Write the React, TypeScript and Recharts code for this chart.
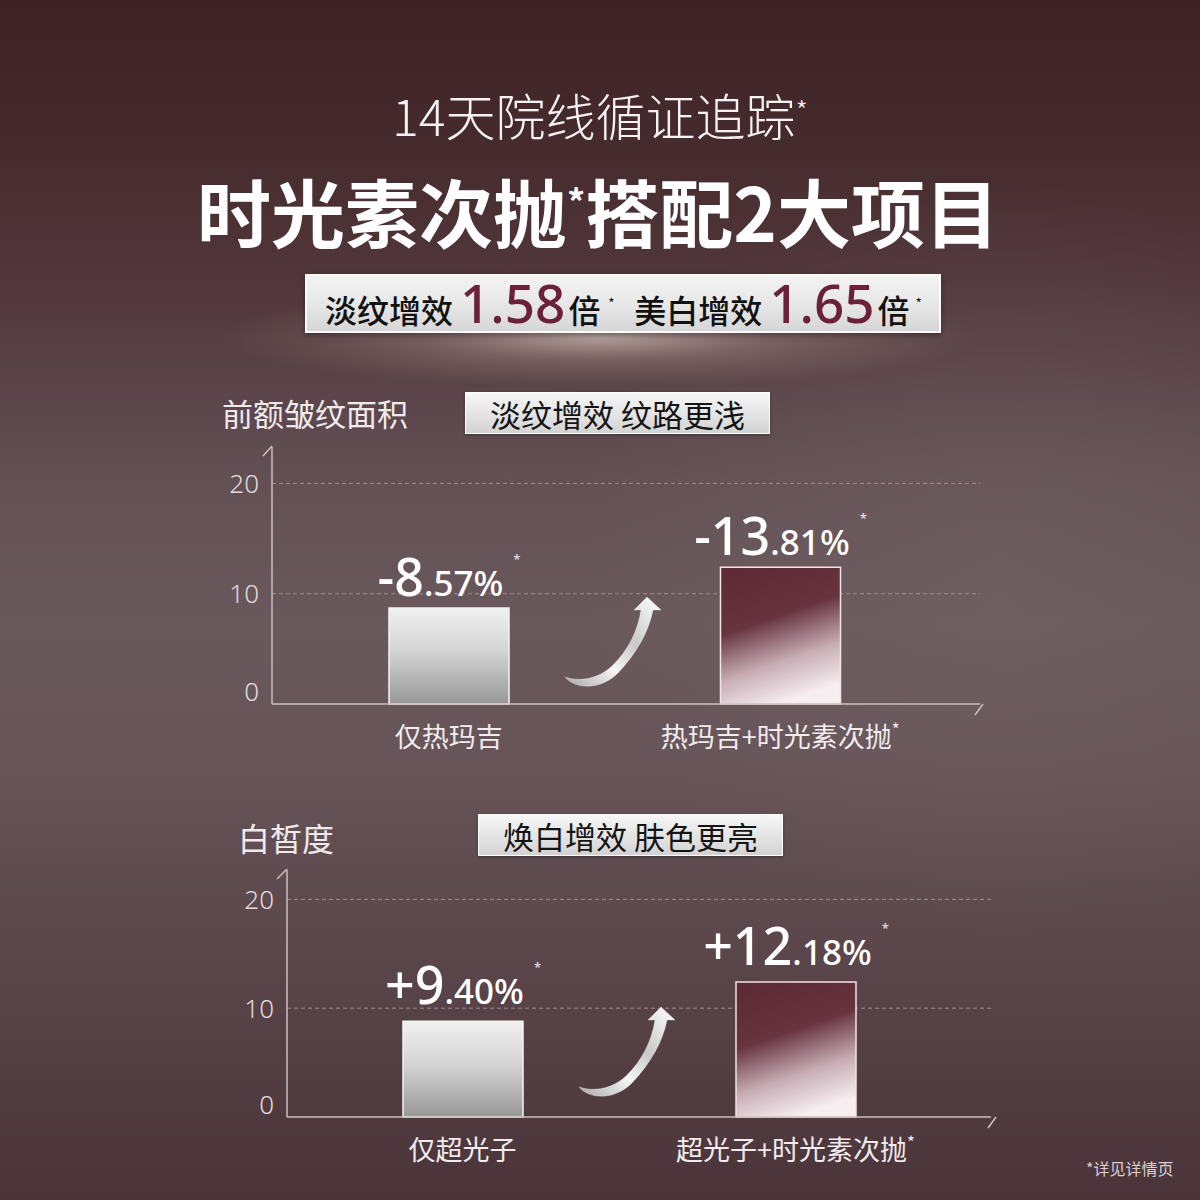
import { BarChart, Bar, XAxis, YAxis, CartesianGrid, LabelList, Cell } from "recharts";

const wrinkleCats = ["仅热玛吉", "热玛吉+时光素次抛*"];
const wrinkleValues = [8.7, 12.4];
const wrinkleLabels = ["-8.57%", "-13.81%"];

const whiteCats = ["仅超光子", "超光子+时光素次抛*"];
const whiteValues = [8.8, 12.4];
const whiteLabels = ["+9.40%", "+12.18%"];

const yTicks = [0, 10, 20];
const gridValues = [10, 20];

const CJK = "'Noto Sans CJK SC', 'Noto Sans', sans-serif";
const NUM = "'Noto Sans', 'Noto Sans CJK SC', sans-serif";

const wrinkleData = wrinkleCats.map((c, i) => ({ name: c, value: wrinkleValues[i], label: wrinkleLabels[i] }));
const whiteData = whiteCats.map((c, i) => ({ name: c, value: whiteValues[i], label: whiteLabels[i] }));

const YTick = (props: any) => {
  const { x, y, payload } = props;
  const shift = payload.value === 0 ? -12 : 0;
  return (
    <text x={x} y={y + shift} dy="0.36em" textAnchor="end" fill="#e4dadc" fontSize={26} fontWeight={300} fontFamily={NUM}>
      {payload.value}
    </text>
  );
};

const CatTick = (props: any) => {
  const { x, y, payload, off } = props;
  const s: string = payload.value;
  const star = s.endsWith("*");
  const main = star ? s.slice(0, -1) : s;
  return (
    <text x={x} y={y + off} textAnchor="middle" fill="#f2ecee" fontSize={27} fontFamily={CJK}>
      <tspan>{main}</tspan>
      {star && (
        <tspan fontSize={17} dy={-11}>
          *
        </tspan>
      )}
    </text>
  );
};

const ValueLabel = (props: any) => {
  const { x, y, width, value, gap } = props;
  const s = String(value);
  const dot = s.indexOf(".");
  return (
    <text x={x + width / 2} y={y - gap} textAnchor="middle" fill="#ffffff" fontFamily={NUM} fontWeight={500}>
      <tspan fontSize={52}>{s.slice(0, dot)}</tspan>
      <tspan fontSize={35}>{s.slice(dot)}</tspan>
      <tspan fontSize={13} dx={10} dy={-32} fill="#e8e0e2">
        *
      </tspan>
    </text>
  );
};

function Gradients() {
  return (
    <defs>
      <linearGradient id="silver" x1="0" y1="0" x2="0" y2="1">
        <stop offset="0%" stopColor="#f0f0f0" />
        <stop offset="45%" stopColor="#d4d4d4" />
        <stop offset="100%" stopColor="#979797" />
      </linearGradient>
      <linearGradient id="wine" x1="0.2" y1="0" x2="0.5" y2="1">
        <stop offset="0%" stopColor="#5d2a36" />
        <stop offset="40%" stopColor="#66333f" />
        <stop offset="72%" stopColor="#c7adb5" />
        <stop offset="100%" stopColor="#f7eef1" />
      </linearGradient>
    </defs>
  );
}

function Chart(props: any) {
  const { data, left, top, width, height, margin, domain, padding, tickOff, gap } = props;
  return (
    <div style={{ position: "absolute", left, top }}>
      <BarChart width={width} height={height} data={data} margin={margin}>
        <Gradients />
        <CartesianGrid vertical={false} horizontalValues={gridValues} stroke="#a28b8f" strokeDasharray="4 3" />
        <YAxis
          type="number"
          domain={domain}
          ticks={yTicks}
          width={60}
          axisLine={{ stroke: "#cdbfc2", strokeWidth: 1.5 }}
          tickLine={false}
          tickSize={0}
          tickMargin={13}
          tick={<YTick />}
          interval={0}
        />
        <XAxis
          dataKey="name"
          height={50}
          padding={padding}
          axisLine={{ stroke: "#cdbfc2", strokeWidth: 1.5 }}
          tickLine={false}
          tickSize={0}
          tickMargin={0}
          tick={(p: any) => <CatTick {...p} off={tickOff} />}
          interval={0}
        />
        <Bar dataKey="value" barSize={120} isAnimationActive={false}>
          {data.map((_: any, i: number) => (
            <Cell key={i} fill={i === 0 ? "url(#silver)" : "url(#wine)"} stroke={i === 0 ? "#f4f4f4" : "#f1e3e6"} strokeWidth={1.5} />
          ))}
          <LabelList dataKey="label" content={(p: any) => <ValueLabel {...p} gap={gap} />} />
        </Bar>
      </BarChart>
    </div>
  );
}

function Arrow({ dx, dy }: { dx: number; dy: number }) {
  return (
    <g transform={`translate(${dx},${dy})`}>
      <path
        d="M565 677 C575 689 600 691 618 673 C637 653 649 631 653 610 L661 610 L647 597 L634 610 L641 610 C638 630 628 651 612 666 C598 679 580 682 565 677 Z"
        fill="url(#arrowGrad)"
        stroke="#ffffff"
        strokeOpacity={0.5}
        strokeWidth={0.6}
      />
    </g>
  );
}

const headBox: any = {
  position: "absolute",
  background: "linear-gradient(180deg, #f6f6f6 0%, #e2e2e2 60%, #d2d2d2 100%)",
  border: "1.5px solid #ffffff",
  boxShadow: "0 1px 3px rgba(0,0,0,0.35)",
  color: "#141414",
  fontFamily: CJK,
  fontSize: 31,
  lineHeight: "41px",
  textAlign: "center",
  boxSizing: "border-box",
};

export default function App() {
  return (
    <div
      style={{
        position: "absolute",
        left: 0,
        top: 0,
        width: 1200,
        height: 1200,
        overflow: "hidden",
        background:
          "linear-gradient(180deg, #3d2125 0%, #452a2e 12%, #53393d 25%, #625055 40%, #69585c 52%, #665459 64%, #5b474c 78%, #4a343a 100%)",
      }}
    >
      <svg width={1200} height={1200} style={{ position: "absolute", left: 0, top: 0 }}>
        <defs>
          <radialGradient id="glow" cx="0.5" cy="0.5" r="0.5">
            <stop offset="0%" stopColor="#fff0e4" stopOpacity={0.55} />
            <stop offset="45%" stopColor="#e8c9bd" stopOpacity={0.22} />
            <stop offset="100%" stopColor="#c9a39a" stopOpacity={0} />
          </radialGradient>
          <radialGradient id="side" cx="0.5" cy="0.5" r="0.5">
            <stop offset="0%" stopColor="#7a6a6e" stopOpacity={0.35} />
            <stop offset="100%" stopColor="#7a6a6e" stopOpacity={0} />
          </radialGradient>
        </defs>
        <ellipse cx={1000} cy={560} rx={420} ry={380} fill="url(#side)" />
        <ellipse cx={600} cy={338} rx={380} ry={50} fill="url(#glow)" />
      </svg>

      <div
        style={{
          position: "absolute",
          left: 0,
          width: 1200,
          top: 80,
          textAlign: "center",
          color: "#f6f1f2",
          fontFamily: CJK,
          fontSize: 50,
          fontWeight: 300,
          lineHeight: "60px",
          whiteSpace: "nowrap",
        }}
      >
        14天院线循证追踪<span style={{ fontSize: 28, verticalAlign: 14 }}>*</span>
      </div>
      <div
        style={{
          position: "absolute",
          left: 0,
          width: 1196,
          top: 157,
          textAlign: "center",
          color: "#ffffff",
          fontFamily: CJK,
          fontSize: 74,
          fontWeight: 700,
          lineHeight: "86px",
          whiteSpace: "nowrap",
        }}
      >
        时光素次抛<span style={{ fontSize: 36, verticalAlign: 26 }}>*</span>搭配2大项目
      </div>

      <div
        style={{
          position: "absolute",
          left: 305,
          top: 274,
          width: 636,
          height: 59,
          boxSizing: "border-box",
          background: "linear-gradient(180deg, #f3f3f3 0%, #e6e6e6 55%, #d6d6d6 100%)",
          border: "2px solid #fbfbfb",
          boxShadow: "0 2px 6px rgba(0,0,0,0.35)",
        }}
      />
      <div
        style={{
          position: "absolute",
          left: 325,
          top: 272,
          whiteSpace: "nowrap",
          fontFamily: CJK,
          color: "#111",
          fontSize: 32,
          fontWeight: 500,
          lineHeight: "60px",
        }}
      >
        <span>淡纹增效</span>
        <span style={{ fontFamily: NUM, fontSize: 53, fontWeight: 500, color: "#6a2139", marginLeft: 7 }}>1.58</span>
        <span style={{ marginLeft: 3 }}>倍</span>
        <span style={{ fontSize: 12, verticalAlign: 16, marginLeft: 8 }}>*</span>
        <span style={{ marginLeft: 20 }}>美白增效</span>
        <span style={{ fontFamily: NUM, fontSize: 53, fontWeight: 500, color: "#6a2139", marginLeft: 7 }}>1.65</span>
        <span style={{ marginLeft: 3 }}>倍</span>
        <span style={{ fontSize: 12, verticalAlign: 16, marginLeft: 6 }}>*</span>
      </div>

      <div style={{ position: "absolute", left: 222, top: 393, color: "#f1eaec", fontFamily: CJK, fontSize: 31, lineHeight: "40px" }}>
        前额皱纹面积
      </div>
      <div style={{ ...headBox, left: 465, top: 392, width: 305, height: 42 }}>淡纹增效 纹路更浅</div>

      <div style={{ position: "absolute", left: 238, top: 817, color: "#f1eaec", fontFamily: CJK, fontSize: 32, lineHeight: "40px" }}>
        白皙度
      </div>
      <div style={{ ...headBox, left: 478, top: 814, width: 305, height: 42 }}>焕白增效 肤色更亮</div>

      <Chart
        data={wrinkleData}
        left={0}
        top={430}
        width={1010}
        height={340}
        margin={{ top: 17, left: 212, right: 30, bottom: 16 }}
        domain={[0, 23.3]}
        padding={{ left: 11, right: 34 }}
        tickOff={43}
        gap={12}
      />
      <Chart
        data={whiteData}
        left={0}
        top={850}
        width={1020}
        height={340}
        margin={{ top: 20, left: 227, right: 29, bottom: 23 }}
        domain={[0, 22.7]}
        padding={{ left: 9, right: 29 }}
        tickOff={43}
        gap={17}
      />

      <svg width={1200} height={1200} style={{ position: "absolute", left: 0, top: 0, pointerEvents: "none" }}>
        <defs>
          <linearGradient id="arrowGrad" x1="0" y1="1" x2="1" y2="0">
            <stop offset="0%" stopColor="#a8a8a8" />
            <stop offset="35%" stopColor="#f6f6f6" />
            <stop offset="60%" stopColor="#c9c9c9" />
            <stop offset="100%" stopColor="#ffffff" />
          </linearGradient>
        </defs>
        <Arrow dx={0} dy={0} />
        <Arrow dx={14} dy={410} />
        <g stroke="#cdbfc2" strokeWidth={1.5} fill="none">
          <path d="M263 456 L272 446" />
          <path d="M975 715 L983 704" />
          <path d="M277 879 L287 869" />
          <path d="M988 1128 L996 1117" />
        </g>
      </svg>

      <div style={{ position: "absolute", left: 1086, top: 1157, color: "#d9cfd2", fontFamily: CJK, fontSize: 16, lineHeight: "22px" }}>
        *详见详情页
      </div>
    </div>
  );
}
